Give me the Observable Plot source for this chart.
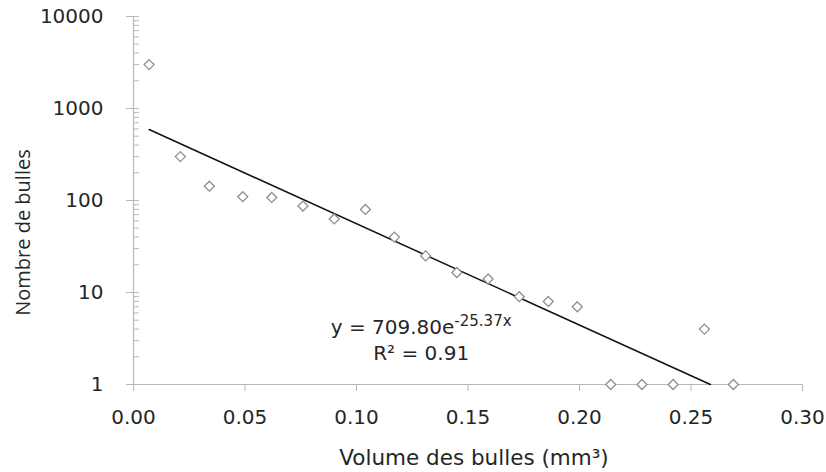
<!DOCTYPE html>
<html>
<head>
<meta charset="utf-8">
<script src="https://cdn.jsdelivr.net/npm/d3@7"></script>
<script src="https://cdn.jsdelivr.net/npm/@observablehq/plot@0.6"></script>
<style>
  html, body { margin: 0; padding: 0; background: #fff; }
  #chart svg { display: block; }
</style>
</head>
<body>
<div id="chart"></div>
<script>
// Bubble volume (mm³) and number of bubbles
const volumes = [0.007, 0.021, 0.034, 0.049, 0.062, 0.076, 0.090, 0.104, 0.117, 0.131,
                 0.145, 0.159, 0.173, 0.186, 0.199, 0.214, 0.228, 0.242, 0.256, 0.269];
const counts  = [3000, 300, 143, 110, 108, 87, 63, 80, 40, 25,
                 16.5, 14, 9, 8, 7, 1, 1, 1, 4, 1];
// Exponential trend line end points (y = 709.80e^-25.37x)
const trendX = [0.007, 0.2587];
const trendY = [591, 1];
const xTicks = [0, 0.05, 0.10, 0.15, 0.20, 0.25, 0.30];
const yTicks = [1, 10, 100, 1000, 10000];
const yMinor = [];
for (const d of [1, 10, 100, 1000]) for (let k = 2; k <= 9; k++) yMinor.push(d * k);
const xTitle = "Volume des bulles (mm³)";
const yTitle = "Nombre de bulles";
const eqText = "y = 709.80e";
const eqExp = "-25.37x";
const r2Text = "R² = 0.91";

const points = volumes.map((v, i) => ({v, n: counts[i]}));
const trend = trendX.map((v, i) => ({v, n: trendY[i]}));

const font = "'DejaVu Sans', sans-serif";
const axisColor = "#b8b8b8";
const textColor = "#262626";

const plot = Plot.plot({
  width: 826,
  height: 472,
  marginLeft: 133,
  marginRight: 24,
  marginTop: 16,
  marginBottom: 88,
  style: {fontFamily: font, fontSize: "20px", color: textColor, background: "#fff"},
  x: {domain: [0, 0.30]},
  y: {type: "log", domain: [1, 10000]},
  marks: [
    Plot.ruleX([0], {stroke: axisColor, strokeWidth: 1.2}),
    Plot.ruleY([1], {stroke: axisColor, strokeWidth: 1.2}),
    Plot.axisY({ticks: yMinor, tickSize: 6, dx: 6, text: null, stroke: axisColor, label: null}),
    Plot.axisY({ticks: yTicks, tickSize: 13, dx: 6, text: null, stroke: axisColor, label: null}),
    Plot.axisY({ticks: yTicks, tickSize: 0, tickPadding: 30, tickFormat: d => String(d),
                fill: textColor, fontSize: 20, label: null}),
    Plot.axisX({ticks: xTicks, tickSize: 7, stroke: axisColor, tickPadding: 18,
                tickFormat: d => d.toFixed(2), fill: textColor, fontSize: 20, label: null}),
    Plot.text([xTitle], {frameAnchor: "bottom", dx: 6, dy: 80, textAnchor: "middle",
                         text: d => d, fontSize: 21.5, fill: textColor}),
    Plot.text([yTitle], {frameAnchor: "left", dx: -110, dy: 32, rotate: -90, textAnchor: "middle",
                         text: d => d, fontFamily: "'Open Sans', sans-serif", fontSize: 20,
                         fill: textColor}),
    Plot.line(trend, {x: "v", y: "n", stroke: "#111", strokeWidth: 1.5}),
    Plot.dot(points, {x: "v", y: "n", symbol: "diamond2", r: 4.5, stroke: "#8f8f8f",
                      strokeWidth: 1.3, fill: "white"}),
    Plot.text([eqText], {x: 0.129, y: 4.2, text: d => d, fontSize: 20, fill: textColor,
                         className: "eq"}),
    Plot.text([r2Text], {x: 0.129, y: 2.15, text: d => d, fontSize: 20, fill: textColor})
  ]
});

// superscript exponent
d3.select(plot).selectAll(".eq text").each(function () {
  const t = d3.select(this);
  t.text(null);
  t.append("tspan").text(eqText);
  t.append("tspan").attr("dy", "-0.5em").attr("font-size", "15px").text(eqExp);
});

document.getElementById("chart").appendChild(plot);
</script>
</body>
</html>
